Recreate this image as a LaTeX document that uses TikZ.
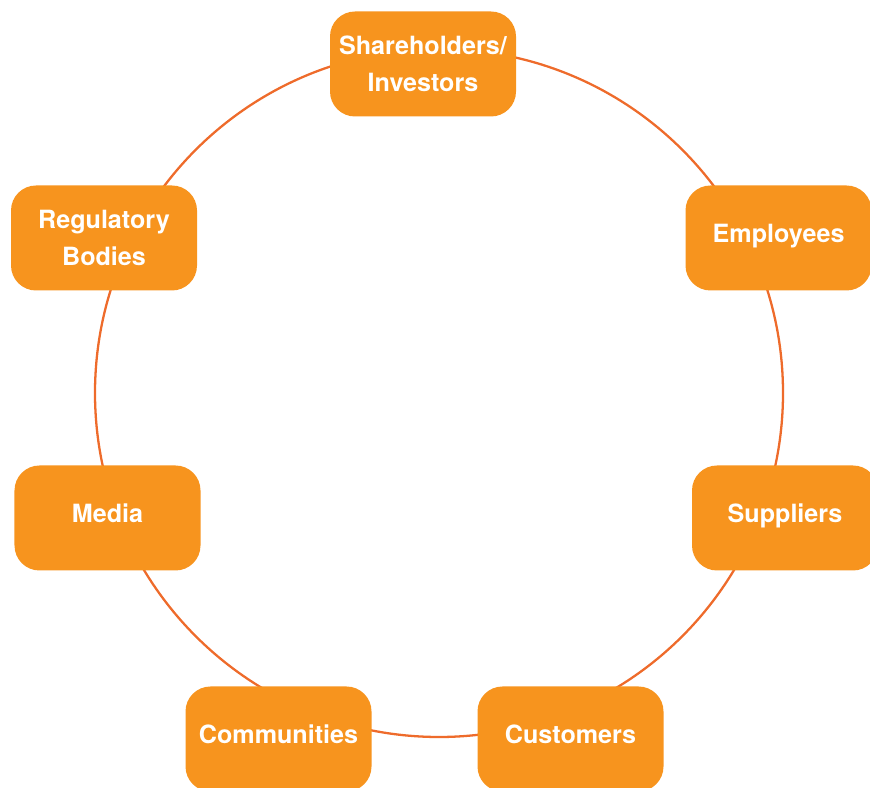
\documentclass[tikz,border=0pt]{standalone}
\usepackage{fontspec}
\setsansfont{TeX Gyre Heros}
\usepackage{tikz}
\usetikzlibrary{positioning}
\definecolor{boxorange}{HTML}{F7941E}
\definecolor{ringorange}{HTML}{EE6B2B}

\begin{document}
\begin{tikzpicture}[party/.style={rectangle,rounded corners=0.5cm,fill=boxorange,text=white,minimum width=3.72cm,minimum height=2.1cm,align=center,font=\sffamily\bfseries\fontsize{14.3}{21}\selectfont},oneline/.style={text height=0.36cm,text depth=0.16cm}]
            \useasboundingbox (0,0) rectangle (17.4,15.76);
            \clip (0,0) rectangle (17.4,15.76);
            \coordinate (hub) at (8.78,7.90);
            \draw[ringorange,line width=1.3pt] (hub) circle (6.88);
            \begin{scope}[every node/.style={party}]
              \node (investors) at (8.46,14.48) {Shareholders/\\Investors};
              \node[oneline] (employees) at (15.57,11.0) {Employees};
              \node[oneline] (suppliers) at (15.70,5.40) {Suppliers};
              \node[oneline] (customers) at (11.41,0.98) {Customers};
              \node[oneline] (communities) at (5.57,0.98) {Communities};
              \node[oneline] (media) at (2.15,5.40) {Media};
              \node (regulators) at (2.08,11.0) {Regulatory\\Bodies};
            \end{scope}
          \end{tikzpicture}
\end{document}
